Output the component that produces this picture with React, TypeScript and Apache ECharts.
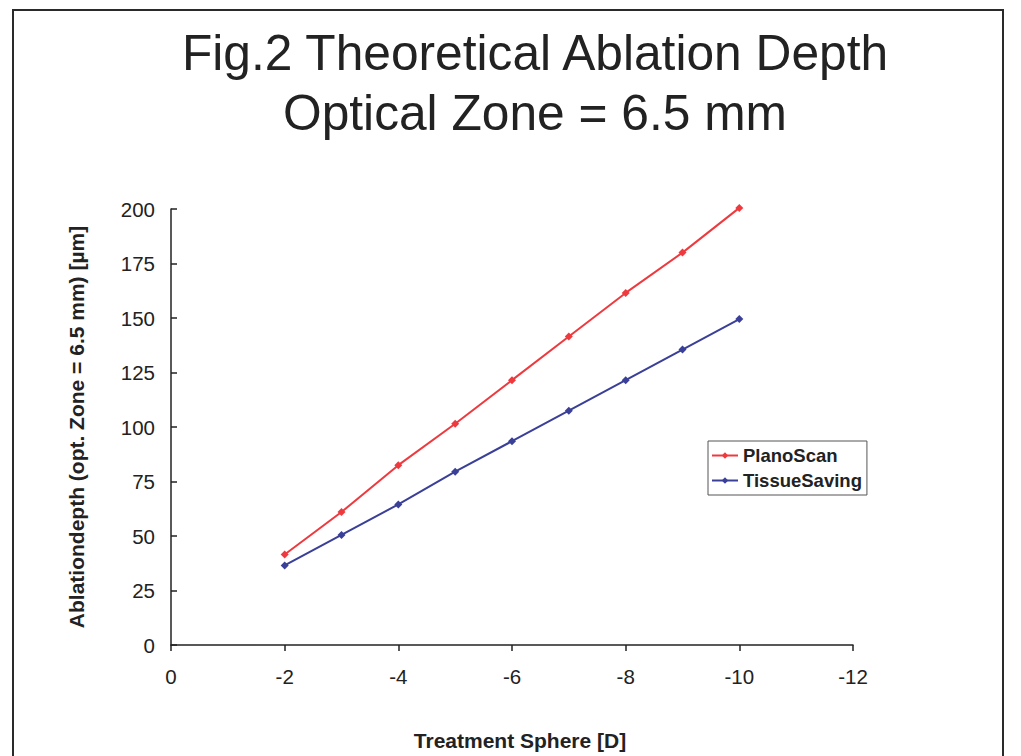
import React, { useEffect, useRef } from "react";
import * as echarts from "echarts";

const titleLines = ["Fig.2 Theoretical Ablation Depth", "Optical Zone = 6.5 mm"];
const sphere = [-2, -3, -4, -5, -6, -7, -8, -9, -10];
const planoScan = [41.5, 61, 82.5, 101.5, 121.5, 141.5, 161.5, 180, 200.5];
const tissueSaving = [36.5, 50.5, 64.5, 79.5, 93.5, 107.5, 121.5, 135.5, 149.5];
const seriesNames = ["PlanoScan", "TissueSaving"];
const xName = "Treatment Sphere [D]";
const yName = "Ablationdepth (opt. Zone = 6.5 mm) [µm]";

const FONT = "'Liberation Sans', Arial, Helvetica, sans-serif";

export default function App() {
  const ref = useRef<HTMLDivElement>(null);
  useEffect(() => {
    if (!ref.current) return;
    const chart = echarts.init(ref.current, null, { renderer: "svg" });
    const toPairs = (vals: number[]) => sphere.map((x, i) => [x, vals[i]]);
    chart.setOption({
      animation: false,
      backgroundColor: "#fff",
      textStyle: { fontFamily: FONT },
      graphic: [
        {
          type: "rect",
          shape: { x: 13, y: 10, width: 990, height: 800 },
          style: { fill: "none", stroke: "#2a2a2a", lineWidth: 2 },
          silent: true,
        },
        {
          type: "text",
          x: 535,
          y: 53,
          style: {
            text: titleLines[0],
            fontSize: 49.7,
            fontFamily: FONT,
            fill: "#222",
            textAlign: "center",
            textVerticalAlign: "middle",
          },
        },
        {
          type: "text",
          x: 535,
          y: 113,
          style: {
            text: titleLines[1],
            fontSize: 49.7,
            fontFamily: FONT,
            fill: "#222",
            textAlign: "center",
            textVerticalAlign: "middle",
          },
        },
      ],
      grid: { left: 171, right: 168, top: 209, bottom: 107, containLabel: false },
      xAxis: {
        type: "value",
        min: -12,
        max: 0,
        interval: 2,
        inverse: true,
        name: xName,
        nameLocation: "middle",
        nameGap: 85,
        nameTextStyle: {
          fontSize: 21,
          fontWeight: "bold",
          color: "#222",
          fontFamily: FONT,
          padding: [0, 0, 0, 16],
        },
        axisLine: { show: true, onZero: false, lineStyle: { color: "#222", width: 1.5 } },
        axisTick: { show: true, inside: false, length: 6, lineStyle: { color: "#222", width: 1.5 } },
        axisLabel: { fontSize: 20.5, color: "#222", margin: 21, fontFamily: FONT },
        splitLine: { show: false },
      },
      yAxis: {
        type: "value",
        min: 0,
        max: 200,
        interval: 25,
        name: yName,
        nameLocation: "middle",
        nameRotate: 90,
        nameGap: 84,
        nameTextStyle: { fontSize: 21, fontWeight: "bold", color: "#222", fontFamily: FONT },
        axisLine: { show: true, onZero: false, lineStyle: { color: "#222", width: 1.5 } },
        axisTick: { show: true, inside: true, length: 6, lineStyle: { color: "#222", width: 1.5 } },
        axisLabel: { fontSize: 20.5, color: "#222", margin: 16, fontFamily: FONT },
        splitLine: { show: false },
      },
      legend: {
        orient: "vertical",
        left: 708,
        top: 441,
        padding: [5, 5, 5, 3],
        itemGap: 6,
        itemWidth: 26,
        itemHeight: 8,
        borderColor: "#555",
        borderWidth: 1,
        textStyle: { fontSize: 18.5, fontWeight: "bold", color: "#222", fontFamily: FONT },
        data: seriesNames,
      },
      series: [
        {
          name: seriesNames[0],
          type: "line",
          data: toPairs(planoScan),
          symbol: "diamond",
          symbolSize: 8,
          clip: false,
          itemStyle: { color: "#ee3a3e" },
          lineStyle: { color: "#ee3a3e", width: 2 },
        },
        {
          name: seriesNames[1],
          type: "line",
          data: toPairs(tissueSaving),
          symbol: "diamond",
          symbolSize: 8,
          clip: false,
          itemStyle: { color: "#3a3f98" },
          lineStyle: { color: "#3a3f98", width: 2 },
        },
      ],
    });
    return () => chart.dispose();
  }, []);
  return (
    <div
      ref={ref}
      style={{ position: "absolute", left: 0, top: 0, width: 1021, height: 756 }}
    />
  );
}
